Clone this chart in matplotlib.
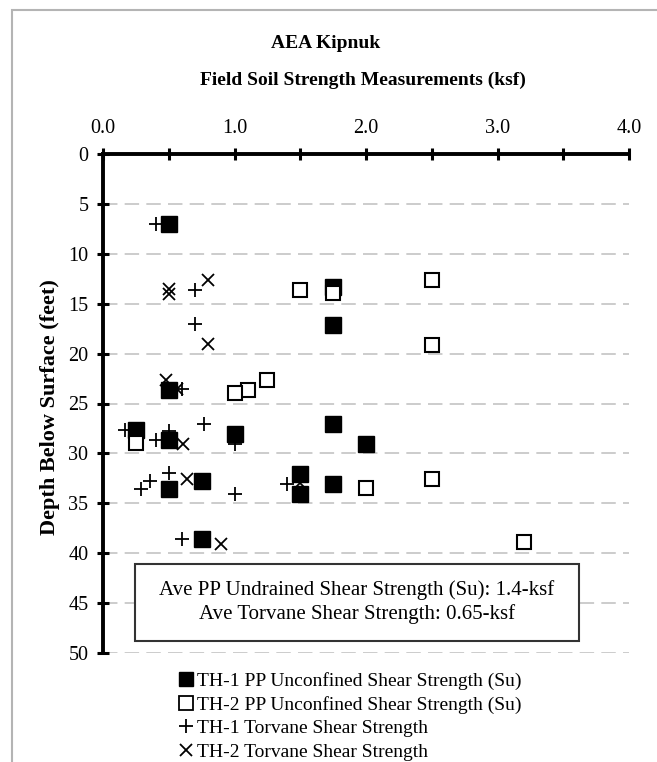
import matplotlib.pyplot as plt
from matplotlib.patches import Rectangle
from matplotlib.lines import Line2D
from matplotlib.ticker import MultipleLocator

plt.rcParams['font.family'] = ['Liberation Serif', 'DejaVu Serif']

# TH-1 pocket penetrometer (filled squares)
th1_pp_x = [0.5, 1.75, 1.75, 0.5, 0.25, 0.5, 1.0, 1.75, 2.0, 0.5, 0.75, 1.5, 1.5, 1.75, 0.75]
th1_pp_d = [7.0, 13.3, 17.1, 23.6, 27.7, 28.7, 28.1, 27.1, 29.1, 33.6, 32.8, 32.1, 34.1, 33.1, 38.6]

# TH-2 pocket penetrometer (open squares)
th2_pp_x = [1.5, 1.75, 2.5, 2.5, 1.25, 1.1, 1.0, 0.25, 2.0, 2.5, 3.2]
th2_pp_d = [13.6, 13.9, 12.6, 19.1, 22.6, 23.6, 23.9, 29.0, 33.5, 32.6, 38.9]

# TH-1 torvane (+)
th1_tv_x = [0.4, 0.7, 0.7, 0.6, 0.17, 0.4, 0.5, 0.77, 1.0, 0.29, 0.36, 0.5, 1.0, 1.4, 0.6]
th1_tv_d = [7.0, 13.6, 17.0, 23.5, 27.7, 28.7, 27.8, 27.1, 29.1, 33.6, 32.8, 32.0, 34.1, 33.1, 38.6]

# TH-2 torvane (x)
th2_tv_x = [0.5, 0.5, 0.8, 0.8, 0.48, 0.56, 0.61, 0.64, 1.5, 0.9]
th2_tv_d = [13.5, 14.0, 12.6, 19.0, 22.6, 23.5, 29.1, 32.6, 33.0, 39.1]

labels = ['TH-1 PP Unconfined Shear Strength (Su)',
          'TH-2 PP Unconfined Shear Strength (Su)',
          'TH-1 Torvane Shear Strength',
          'TH-2 Torvane Shear Strength']
box_lines = ['Ave PP Undrained Shear Strength (Su): 1.4-ksf',
             'Ave Torvane Shear Strength: 0.65-ksf']

W, H = 657, 762
fig = plt.figure(figsize=(W / 100, H / 100), dpi=100)
ax = fig.add_axes([103 / W, 1 - 653 / H, 526 / W, 499 / H])

# outer grey frame (cut off at right and bottom)
fig.add_artist(Rectangle((12 / W, -0.1), 1.2, 1 - 10 / H + 0.1, transform=fig.transFigure,
                         fill=False, edgecolor='#b4b4b4', linewidth=1.5))

ax.plot(th1_pp_x, th1_pp_d, 's', color='black', ms=11, mec='black', zorder=3)
ax.plot(th2_pp_x, th2_pp_d, 's', mfc='white', mec='black', ms=10.5, mew=1.5, zorder=3)
ax.plot(th1_tv_x, th1_tv_d, '+', color='black', ms=10, mew=1.3, zorder=4)
ax.plot(th2_tv_x, th2_tv_d, 'x', color='black', ms=9, mew=1.3, zorder=4)

ax.set_xlim(0, 4.0)
ax.set_ylim(50, 0)
ax.xaxis.tick_top()
ax.xaxis.set_major_locator(MultipleLocator(1.0))
ax.xaxis.set_minor_locator(MultipleLocator(0.5))
ax.xaxis.set_major_formatter(lambda v, p: f'{v:.1f}')
ax.yaxis.set_major_locator(MultipleLocator(5))
ax.tick_params(axis='both', which='both', direction='inout', length=9, width=2.2,
               labelsize=14.5, color='black')
ax.tick_params(axis='x', which='major', pad=7)
ax.tick_params(axis='y', pad=6)

for s in ['right', 'bottom']:
    ax.spines[s].set_visible(False)
for s in ['left', 'top']:
    ax.spines[s].set_linewidth(2.8)

ax.grid(axis='y', color='#c8c8c8', linestyle=(0, (8, 4)), linewidth=1.3)
ax.set_axisbelow(True)

fig.text(326 / W, 1 - 43 / H, 'AEA Kipnuk', ha='center', va='center',
         fontsize=14, fontweight='bold')
fig.text(363 / W, 1 - 80 / H, 'Field Soil Strength Measurements (ksf)', ha='center',
         va='center', fontsize=14, fontweight='bold')
fig.text(50 / W, 1 - 407 / H, 'Depth Below Surface (feet)', ha='center', va='center',
         rotation=90, fontsize=16, fontweight='bold')

# summary box
ax.add_patch(Rectangle((32 / 526, 12 / 499), 444 / 526, 77 / 499, transform=ax.transAxes,
                       facecolor='white', edgecolor='#333333', linewidth=1.5, zorder=5))
ax.text(254 / 526, 63 / 499, box_lines[0], transform=ax.transAxes, ha='center',
        va='center', fontsize=15, zorder=6)
ax.text(254 / 526, 39 / 499, box_lines[1], transform=ax.transAxes, ha='center',
        va='center', fontsize=15, zorder=6)

handles = [Line2D([], [], ls='none', marker='s', color='black', ms=10),
           Line2D([], [], ls='none', marker='s', mfc='white', mec='black', ms=9.5, mew=1.3),
           Line2D([], [], ls='none', marker='+', color='black', ms=10, mew=1.3),
           Line2D([], [], ls='none', marker='x', color='black', ms=9, mew=1.3)]
fig.legend(handles, labels, loc='upper left', bbox_to_anchor=(178 / W, 1 - 672 / H),
           frameon=False, fontsize=14, handlelength=0.8, handletextpad=0.2,
           labelspacing=0.3, borderaxespad=0, borderpad=0)

fig.savefig('out.png', dpi=100)
